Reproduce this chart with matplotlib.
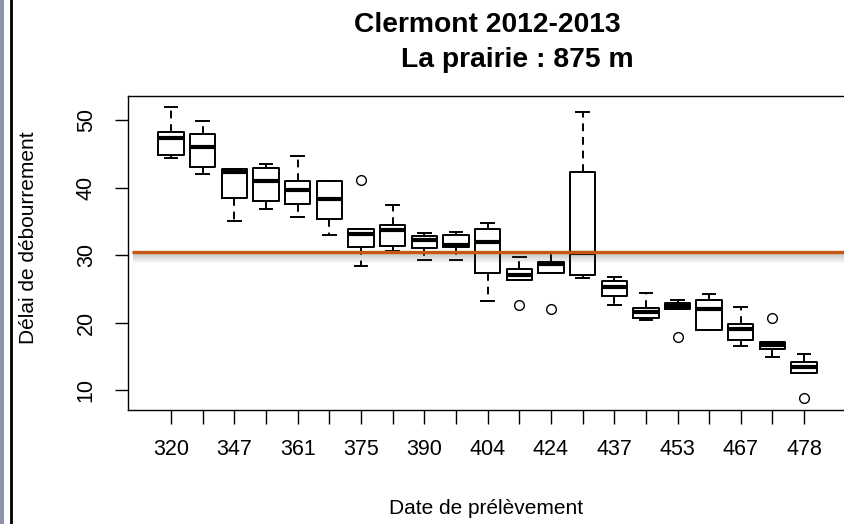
import matplotlib
matplotlib.use("Agg")
import matplotlib.pyplot as plt
from matplotlib.patches import Rectangle
from matplotlib.lines import Line2D
import matplotlib.transforms as mtransforms

plt.rcParams['font.family'] = ['Liberation Sans', 'DejaVu Sans']

# Sampling dates (only every other one is printed on the axis)
tick_labels = ['320', '', '347', '', '361', '', '375', '', '390', '', '404',
               '', '424', '', '437', '', '453', '', '467', '', '478']

# Box statistics per sampling date
whis_hi = [51.9, 49.9, 42.7, 43.5, 44.6, 40.9, 33.9, 37.4, 33.2, 33.4, 34.7,
           29.7, 30.3, 51.2, 26.8, 24.4, 23.3, 24.2, 22.3, 17.1, 15.3]
q3 = [48.2, 48.0, 42.7, 42.9, 40.9, 40.9, 33.9, 34.5, 32.8, 33.0, 33.9,
      27.9, 28.9, 42.3, 26.1, 22.2, 22.9, 23.3, 19.8, 17.1, 14.1]
medians = [47.3, 46.0, 42.3, 40.9, 39.6, 38.3, 33.1, 33.7, 32.2, 31.5, 31.9,
           27.0, 28.7, 30.3, 25.3, 21.6, 22.4, 22.0, 19.0, 16.7, 13.4]
q1 = [44.8, 43.1, 38.5, 38.0, 37.6, 35.4, 31.2, 31.4, 31.0, 31.2, 27.4,
      26.3, 27.3, 27.0, 23.9, 20.6, 22.0, 18.9, 17.4, 16.1, 12.5]
whis_lo = [44.4, 42.0, 35.0, 36.8, 35.7, 33.0, 28.4, 30.6, 29.3, 29.3, 23.2,
           26.3, 27.3, 26.6, 22.6, 20.3, 22.0, 18.9, 16.5, 14.9, 12.5]
outliers = [[], [], [], [], [], [], [41.1], [], [], [], [],
            [22.6], [22.0], [], [], [], [17.8], [], [], [20.7], [8.8]]

# Reference level drawn across the plot
reference_level = 30.44

title_line1 = "Clermont 2012-2013"
title_line2 = "La prairie : 875 m"
x_label = "Date de prélèvement"
y_label = "Délai de débourrement"

W, H = 844, 524
fig = plt.figure(figsize=(W / 100, H / 100), dpi=100)
ax = fig.add_axes([128 / W, 1 - 410 / H, (W - 128) / W, (410 - 96) / H])

stats = []
for i in range(len(medians)):
    stats.append(dict(med=medians[i], q1=q1[i], q3=q3[i],
                      whislo=whis_lo[i], whishi=whis_hi[i],
                      fliers=outliers[i]))

positions = list(range(1, len(stats) + 1))
lw = 1.4
ax.bxp(stats, positions=positions, widths=0.8, capwidths=0.4,
       boxprops=dict(color='black', linewidth=lw),
       whiskerprops=dict(color='black', linewidth=lw, linestyle=(0, (4, 3))),
       capprops=dict(color='black', linewidth=lw),
       medianprops=dict(color='black', linewidth=3.0, solid_capstyle='butt'),
       flierprops=dict(marker='o', markerfacecolor='none',
                       markeredgecolor='black', markersize=7,
                       markeredgewidth=1.0))

ax.set_xlim(-0.36, 22.26)
ax.set_ylim(7.04, 53.56)

# Soft shadow under the reference line
for k in range(1, 11):
    off = mtransforms.offset_copy(ax.transData, fig=fig, x=0, y=-k * 0.72,
                                  units='points')
    ax.plot([-0.2, 22.26], [reference_level, reference_level],
            color='#444444', alpha=0.22 * (1 - k / 12), linewidth=1.2,
            transform=off, solid_capstyle='butt', zorder=4)
ax.plot([-0.23, 22.26], [reference_level, reference_level],
        color='#c8560f', linewidth=2.4, solid_capstyle='butt', zorder=5)

# Axes styling
ax.spines['right'].set_visible(False)
for s in ['left', 'bottom', 'top']:
    ax.spines[s].set_linewidth(1.0)
    ax.spines[s].set_color('black')

ax.set_xticks(positions)
ax.set_xticklabels(tick_labels)
ax.set_yticks([10, 20, 30, 40, 50])
ax.tick_params(axis='x', length=10, width=1.0, pad=11, labelsize=15.5,
               colors='black')
ax.tick_params(axis='y', length=9.5, width=1.0, pad=13, labelsize=15.5,
               colors='black')
for lab in ax.get_yticklabels():
    lab.set_rotation(90)
    lab.set_va('center')
    lab.set_ha('right')

ax.set_xlabel(x_label, fontsize=15, va='center')
ax.xaxis.set_label_coords(0.5, -(508 - 410) / 314)
ax.set_ylabel(y_label, fontsize=15, va='center')
ax.yaxis.set_label_coords(-(128 - 29) / 716, (410 - 238) / 314)

fig.text(487 / W, 1 - 32 / H, title_line1, ha='center', va='baseline',
         fontsize=20.3, fontweight='bold')
fig.text(517 / W, 1 - 67 / H, title_line2, ha='center', va='baseline',
         fontsize=20.3, fontweight='bold')

# Window frame on the left edge
fig.add_artist(Rectangle((0, 0), 4 / W, 1, transform=fig.transFigure,
                         facecolor='#8c95a8', edgecolor='none'))
fig.add_artist(Line2D([11 / W, 11 / W], [0, 1], transform=fig.transFigure,
                      color='black', linewidth=2.0))

fig.savefig('out.png', dpi=100)
